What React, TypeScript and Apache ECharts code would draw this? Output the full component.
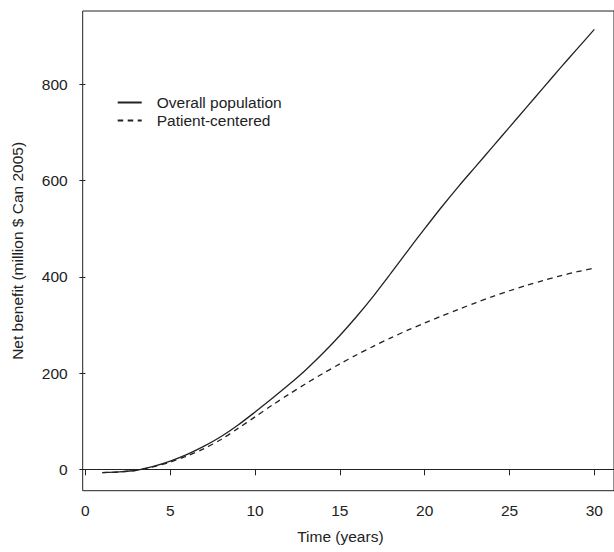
import React, { useEffect, useRef } from "react";
import * as echarts from "echarts";

const years = [1, 2, 3, 4, 5, 6, 7, 8, 9, 10, 11, 12, 13, 14, 15, 16, 17, 18, 19, 20, 21, 22, 23, 24, 25, 26, 27, 28, 29, 30];
const overallPopulation = [-7, -5.5, -2, 6, 17, 31, 48, 68, 92, 119, 147, 176, 207, 241, 278, 318, 361, 407, 454, 500, 545, 588, 629, 670, 711, 752, 793, 834, 874, 914];
const patientCentered = [-7, -5.5, -2, 5, 15, 28, 43, 62, 85, 109, 133, 156, 178, 199, 219, 238, 256, 273, 289, 304, 318.5, 332.5, 346, 359, 371, 382, 392.5, 402, 410.5, 418];
const xTicks = [0, 5, 10, 15, 20, 25, 30];
const yTicks = [0, 200, 400, 600, 800];
const seriesNames = ["Overall population", "Patient-centered"];

const FONT = "'Liberation Sans', Arial, Helvetica, sans-serif";
const INK = "#222222";

export default function App() {
  const ref = useRef<HTMLDivElement>(null);

  useEffect(() => {
    if (!ref.current) return;
    const chart = echarts.init(ref.current, null, { renderer: "svg" });
    const toPairs = (vals: number[]) => years.map((x, i) => [x, vals[i]]);
    chart.setOption({
      animation: false,
      backgroundColor: "#ffffff",
      textStyle: { fontFamily: FONT },
      grid: {
        left: 82.7,
        top: 11,
        right: -3.8,
        bottom: 61.3,
        show: true,
        borderColor: INK,
        borderWidth: 1,
        backgroundColor: "transparent",
      },
      legend: {
        orient: "vertical",
        left: 111.7,
        top: 89.5,
        itemWidth: 24,
        itemHeight: 14,
        itemGap: 2,
        data: seriesNames,
        itemStyle: { opacity: 0 },
        textStyle: {
          fontFamily: FONT,
          fontSize: 15.5,
          color: INK,
          padding: [0, 0, 0, 10],
        },
      },
      xAxis: {
        type: "value",
        min: -0.16,
        max: 31.16,
        name: "Time (years)",
        nameLocation: "middle",
        nameGap: 38,
        nameTextStyle: { fontFamily: FONT, fontSize: 15.5, color: INK, padding: [0, 16, 0, 0] },
        axisLine: { show: false },
        splitLine: { show: false },
        axisTick: {
          show: true,
          length: 6,
          customValues: xTicks,
          lineStyle: { color: INK, width: 1 },
        },
        axisLabel: {
          customValues: xTicks,
          fontFamily: FONT,
          fontSize: 15.5,
          color: INK,
          margin: 12,
        },
      },
      yAxis: {
        type: "value",
        min: -44.5,
        max: 952.3,
        name: "Net benefit (million $ Can 2005)",
        nameLocation: "middle",
        nameGap: 57,
        nameTextStyle: { fontFamily: FONT, fontSize: 15.5, color: INK },
        axisLine: { show: false },
        splitLine: { show: false },
        axisTick: {
          show: true,
          length: 6,
          customValues: yTicks,
          lineStyle: { color: INK, width: 1 },
        },
        axisLabel: {
          customValues: yTicks,
          fontFamily: FONT,
          fontSize: 15.5,
          color: INK,
          margin: 15,
        },
      },
      series: [
        {
          name: seriesNames[0],
          type: "line",
          data: toPairs(overallPopulation),
          smooth: 0.3,
          symbol: "none",
          lineStyle: { color: INK, width: 1.3, type: "solid" },
          itemStyle: { color: INK },
          markLine: {
            silent: true,
            symbol: "none",
            label: { show: false },
            lineStyle: { color: INK, width: 1, type: "solid" },
            data: [{ yAxis: 0 }],
          },
          z: 3,
        },
        {
          name: seriesNames[1],
          type: "line",
          data: toPairs(patientCentered),
          smooth: 0.3,
          symbol: "none",
          lineStyle: { color: INK, width: 1.3, type: [5.5, 4.5] },
          itemStyle: { color: INK },
          z: 3,
        },
      ],
    });
    return () => chart.dispose();
  }, []);

  return (
    <div
      ref={ref}
      style={{ position: "fixed", left: 0, top: 0, width: 614, height: 552, background: "#fff" }}
    />
  );
}
